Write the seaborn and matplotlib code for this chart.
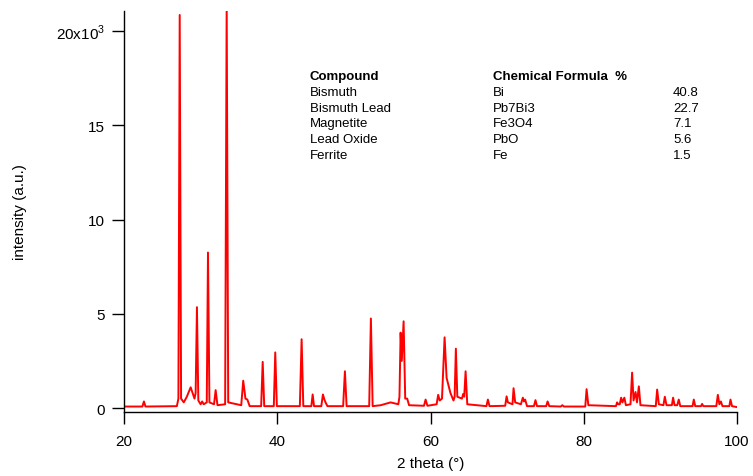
import matplotlib
matplotlib.use("Agg")
import matplotlib.pyplot as plt
import seaborn as sns

# XRD pattern (2 theta in degrees, intensity in thousands of counts)
theta = [20.0, 22.4, 22.6, 22.8, 26.9, 27.1, 27.27, 27.45, 27.8, 28.2,
         28.7, 29.2, 29.35, 29.52, 29.7, 30.0, 30.2, 30.4, 30.8, 30.96,
         31.15, 31.75, 31.96, 32.2, 33.2, 33.4, 33.6, 35.3, 35.56, 35.85,
         36.1, 36.4, 37.9, 38.1, 38.3, 39.55, 39.74, 39.95, 42.95, 43.18,
         43.4, 44.45, 44.62, 44.8, 45.75, 45.96, 46.15, 46.3, 46.55, 48.6,
         48.83, 49.05, 52.0, 52.22, 52.45, 53.5, 54.8, 55.8, 55.95, 56.1,
         56.25, 56.49, 56.7, 56.96, 57.2, 59.15, 59.36, 59.6, 60.8, 61.0,
         61.2, 61.5, 61.84, 62.1, 62.6, 63.0, 63.15, 63.31, 63.5, 64.1,
         64.27, 64.4, 64.58, 64.8, 67.3, 67.49, 67.7, 69.75, 69.93, 70.1,
         70.7, 70.84, 71.05, 71.8, 72.05, 72.2, 72.35, 72.6, 73.5, 73.7,
         73.9, 75.1, 75.28, 75.5, 77.0, 77.2, 77.4, 80.2, 80.37, 80.6,
         84.2, 84.36, 84.5, 84.7, 84.88, 85.05, 85.3, 85.5, 86.1, 86.31,
         86.5, 86.76, 86.95, 87.19, 87.4, 89.4, 89.58, 89.8, 90.4, 90.58,
         90.8, 91.5, 91.66, 91.85, 92.2, 92.4, 92.6, 94.2, 94.36, 94.55,
         95.3, 95.45, 95.6, 97.3, 97.5, 97.7, 97.9, 98.1, 99.0, 99.15,
         99.35, 100.0]
intensity = [0.08, 0.08, 0.35, 0.08, 0.1, 0.5, 20.85, 0.5, 0.3, 0.6,
             1.1, 0.5, 0.8, 5.35, 0.4, 0.2, 0.35, 0.2, 0.3, 8.25,
             0.3, 0.2, 0.95, 0.15, 0.2, 21.5, 0.3, 0.15, 1.45, 0.5,
             0.45, 0.1, 0.1, 2.45, 0.1, 0.1, 2.95, 0.1, 0.1, 3.65,
             0.1, 0.1, 0.72, 0.1, 0.1, 0.72, 0.45, 0.3, 0.1, 0.1,
             1.95, 0.1, 0.1, 4.75, 0.1, 0.15, 0.3, 0.2, 0.6, 4.0,
             2.5, 4.6, 0.5, 0.5, 0.15, 0.12, 0.45, 0.12, 0.2, 0.7,
             0.4, 0.5, 3.75, 1.6, 0.8, 0.4, 0.6, 3.15, 0.6, 0.5,
             0.75, 0.6, 1.95, 0.2, 0.1, 0.45, 0.1, 0.12, 0.62, 0.3,
             0.2, 1.05, 0.3, 0.2, 0.55, 0.35, 0.45, 0.1, 0.1, 0.42,
             0.1, 0.1, 0.35, 0.1, 0.08, 0.15, 0.08, 0.08, 1.0, 0.15,
             0.1, 0.3, 0.2, 0.2, 0.55, 0.3, 0.55, 0.15, 0.2, 1.88,
             0.4, 0.85, 0.3, 1.15, 0.15, 0.1, 0.98, 0.2, 0.15, 0.6,
             0.15, 0.15, 0.55, 0.15, 0.15, 0.45, 0.1, 0.1, 0.45, 0.1,
             0.1, 0.22, 0.1, 0.1, 0.7, 0.2, 0.35, 0.1, 0.1, 0.45,
             0.1, 0.05]

compounds = ["Bismuth", "Bismuth Lead", "Magnetite", "Lead Oxide", "Ferrite"]
formulas = ["Bi", "Pb7Bi3", "Fe3O4", "PbO", "Fe"]
percents = ["40.8", "22.7", "7.1", "5.6", "1.5"]

y_ticks = [0, 5, 10, 15, 20]
y_ticklabels = ["0", "5", "10", "15", r"20x10$^{3}$"]
x_ticks = [20, 40, 60, 80, 100]

sns.set_style("ticks")
plt.rcParams['font.family'] = ['Liberation Sans', 'DejaVu Sans']
plt.rcParams['mathtext.fontset'] = 'custom'
plt.rcParams['mathtext.rm'] = 'Liberation Sans'
plt.rcParams['text.color'] = 'black'
plt.rcParams['axes.labelcolor'] = 'black'

W, H = 753, 477
fig = plt.figure(figsize=(W / 100, H / 100), dpi=100)
ax = fig.add_axes([124 / W, 1 - 413 / H, (737 - 124) / W, (413 - 12) / H])

sns.lineplot(x=theta, y=intensity, color="#ff0000", linewidth=1.4, ax=ax)

ax.set_xlim(20, 100)
ax.set_ylim(-0.21, 21.06)
ax.set_xticks(x_ticks)
ax.set_yticks(y_ticks)
ax.set_yticklabels(y_ticklabels)
ax.tick_params(axis="both", direction="out", length=8.5, width=1.0,
               labelsize=11, colors="black")
ax.tick_params(axis="x", pad=7)
ax.tick_params(axis="y", pad=5)
for s in ["top", "right"]:
    ax.spines[s].set_visible(False)
for s in ["left", "bottom"]:
    ax.spines[s].set_linewidth(1.0)
    ax.spines[s].set_color("black")

ax.set_xlabel("2 theta (°)", fontsize=11, color="black")
ax.set_ylabel("intensity (a.u.)", fontsize=11, color="black")
ax.xaxis.set_label_coords(0.5, -0.11)
ax.yaxis.set_label_coords(-0.158, 0.5)

# composition table
col_x = [310, 493, 673]
row_y = [77, 93, 109, 124, 140, 156]
fs = 9.5
fig.text(col_x[0] / W, 1 - row_y[0] / H, "Compound", fontsize=fs, fontweight="bold", va="center", color="black")
fig.text(col_x[1] / W, 1 - row_y[0] / H, "Chemical Formula  %", fontsize=fs, fontweight="bold", va="center", color="black")
for i in range(len(compounds)):
    y = 1 - row_y[i + 1] / H
    fig.text(col_x[0] / W, y, compounds[i], fontsize=fs, va="center", color="black")
    fig.text(col_x[1] / W, y, formulas[i], fontsize=fs, va="center", color="black")
    fig.text(col_x[2] / W, y, percents[i], fontsize=fs, va="center", color="black")

fig.savefig("out.png", dpi=100)
